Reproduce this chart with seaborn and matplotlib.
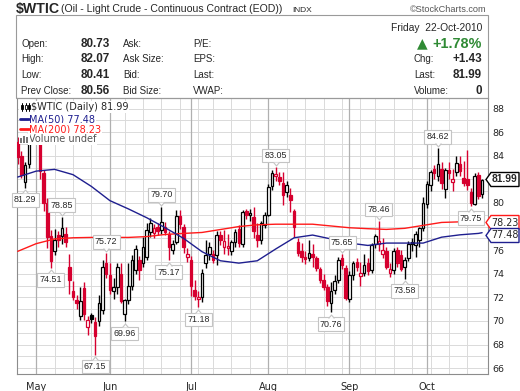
#### $WTIC daily candles, StockCharts style, Apr-Oct 2010

import matplotlib
matplotlib.use("Agg")
import matplotlib.pyplot as plt
from matplotlib.patches import Rectangle, Polygon
from matplotlib.lines import Line2D
from matplotlib.path import Path
from matplotlib.transforms import offset_copy
import numpy as np
import pandas as pd
import seaborn as sns

# one entry per trading day, 26-Apr-2010 .. 22-Oct-2010
opens = [85.2, 84.0, 81.8, 83.3, 85.8, 86.3, 86.0, 82.5, 80.0, 77.2,
         75.9, 77.3, 77.2, 77.4, 74.6, 72.5, 71.8, 70.4, 72.8, 69.5,
         70.5, 69.9, 70.0, 70.9, 74.9, 73.9, 72.5, 72.9, 74.0, 70.6,
         71.8, 73.0, 74.3, 75.2, 74.9, 75.4, 77.56, 77.42, 78.0, 77.7,
         78.0, 77.4, 76.0, 76.7, 78.9, 78.0, 75.4, 75.2, 72.6, 71.9,
         72.05, 74.9, 75.7, 75.7, 75.6, 77.3, 76.3, 76.15, 75.9, 76.7,
         77.8, 76.5, 79.3, 79.0, 78.8, 77.3, 76.9, 78.15, 79.0, 81.4,
         82.28, 82.2, 81.7, 80.95, 80.7, 79.3, 76.7, 75.9, 75.45, 75.3,
         75.7, 75.3, 74.4, 73.5, 72.9, 71.5, 72.6, 73.5, 75.3, 74.5,
         71.9, 73.9, 75.0, 73.8, 74.1, 74.9, 74.3, 76.5, 76.5, 75.7,
         75.9, 74.1, 74.3, 76.0, 75.6, 74.6, 75.3, 76.7, 76.4, 76.9,
         77.9, 79.9, 81.5, 82.9, 82.3, 82.9, 81.2, 82.8, 81.8, 82.6,
         83.3, 82.1, 82.0, 80.9, 79.9, 82.4, 80.73]
highs = [85.6, 84.4, 83.5, 86.3, 86.9, 87.2, 86.2, 82.8, 80.4, 77.7,
         77.8, 77.6, 78.85, 78.0, 75.7, 73.4, 72.2, 72.9, 73.3, 70.4,
         70.7, 70.3, 72.2, 75.2, 75.72, 74.9, 73.6, 74.9, 74.9, 71.9,
         74.9, 75.6, 76.4, 75.5, 77.1, 78.3, 78.7, 78.2, 78.3, 79.70,
         78.4, 77.6, 76.9, 79.4, 79.4, 78.2, 76.2, 75.5, 73.5, 72.5,
         74.4, 76.85, 76.7, 76.0, 77.6, 77.6, 77.7, 77.4, 76.9, 77.8,
         78.1, 79.4, 79.5, 79.5, 79.65, 78.3, 78.5, 79.2, 81.6, 82.8,
         83.05, 82.6, 82.6, 81.9, 81.25, 79.5, 77.0, 76.6, 75.9, 76.85,
         76.5, 75.5, 74.6, 74.0, 73.1, 73.3, 73.9, 75.4, 75.65, 74.7,
         74.2, 75.1, 75.3, 75.0, 75.7, 75.3, 76.6, 77.4, 78.46, 77.0,
         76.3, 74.9, 76.2, 76.3, 76.0, 75.4, 76.8, 77.0, 77.6, 78.0,
         80.5, 81.9, 82.8, 83.2, 84.62, 83.5, 83.0, 83.5, 82.9, 84.0,
         84.0, 83.6, 84.5, 81.3, 82.5, 82.6, 82.07]
lows = [83.3, 82.1, 81.29, 83.0, 85.2, 85.6, 82.0, 79.3, 76.2, 74.51,
        75.6, 76.3, 76.5, 76.3, 72.3, 71.8, 71.0, 70.1, 70.1, 68.8,
        69.8, 67.15, 69.6, 70.6, 73.6, 72.3, 71.9, 72.3, 71.5, 69.96,
        71.4, 72.6, 74.0, 73.5, 74.6, 75.2, 77.1, 77.0, 77.3, 77.4,
        77.3, 75.17, 75.7, 76.5, 77.8, 75.8, 75.0, 72.1, 71.8, 71.18,
        71.6, 74.45, 75.15, 74.9, 74.7, 76.4, 75.7, 75.6, 75.6, 76.3,
        76.3, 76.3, 78.6, 78.5, 77.0, 76.3, 76.5, 77.9, 78.9, 81.1,
        81.9, 81.5, 79.8, 80.5, 79.25, 77.1, 75.5, 75.0, 74.8, 75.1,
        74.6, 74.2, 73.2, 72.6, 71.3, 70.76, 72.3, 73.2, 74.4, 71.8,
        71.6, 73.5, 74.2, 73.0, 73.8, 73.9, 74.1, 76.2, 75.9, 75.3,
        74.4, 73.7, 74.0, 74.6, 74.2, 73.58, 75.1, 75.9, 75.4, 76.3,
        77.6, 79.6, 81.0, 82.0, 81.9, 81.2, 80.4, 82.0, 81.0, 82.3,
        82.3, 81.4, 81.1, 79.75, 79.8, 80.3, 80.41]
closes = [83.9, 82.4, 83.2, 85.9, 86.2, 86.19, 82.7, 80.0, 77.1, 75.1,
          76.9, 76.85, 77.85, 76.7, 73.5, 72.05, 71.5, 71.7, 70.6, 70.1,
          70.2, 68.75, 71.5, 74.55, 73.97, 72.6, 72.9, 74.6, 71.7, 71.8,
          73.0, 75.2, 76.1, 74.3, 76.3, 77.7, 78.27, 77.84, 77.6, 78.4,
          77.56, 76.3, 76.55, 78.9, 78.25, 76.3, 75.65, 72.95, 72.15, 72.0,
          74.1, 75.6, 76.3, 75.2, 77.3, 76.9, 76.8, 76.35, 76.7, 77.5,
          76.6, 79.2, 79.0, 79.05, 77.6, 76.9, 78.3, 78.95, 81.35, 82.55,
          82.45, 81.9, 80.7, 81.5, 80.25, 78.0, 75.75, 75.4, 75.25, 75.8,
          75.4, 74.45, 73.45, 72.9, 71.65, 72.5, 73.4, 75.2, 74.7, 71.95,
          73.9, 74.9, 74.6, 74.1, 74.7, 74.25, 76.45, 77.2, 76.8, 76.0,
          74.6, 74.4, 75.9, 74.9, 74.4, 75.2, 76.5, 76.55, 77.4, 77.86,
          80.0, 81.6, 82.6, 82.55, 83.3, 81.7, 82.8, 82.5, 82.0, 83.35,
          82.7, 81.7, 81.5, 80.0, 82.3, 80.56, 81.99]

# moving averages every 5 sessions
ma_days = [0, 5, 10, 15, 20, 25, 30, 35, 40, 45, 50, 55, 60, 65,
           70, 75, 80, 85, 90, 95, 100, 105, 110, 115, 120, 125, 126]
ma50 = [82.2, 82.7, 82.85, 82.4, 81.4, 80.2, 79.5, 78.75, 77.9, 77.0,
        75.87, 75.1, 74.9, 75.1, 76.1, 77.05, 77.28, 76.95, 76.6, 76.4,
        76.6, 76.6, 76.6, 77.1, 77.3, 77.42, 77.48]
ma200 = [75.9, 76.55, 76.95, 77.05, 77.08, 77.08, 77.08, 77.15, 77.33,
         77.42, 77.5, 77.75, 78.0, 78.15, 78.2, 78.2, 78.2, 78.05, 77.9,
         77.82, 77.76, 77.85, 78.1, 78.35, 78.4, 78.3, 78.23]

# labelled highs / lows: (session, value, above?)
marks = [(2, 81.29, False), (12, 78.85, True), (9, 74.51, False),
         (21, 67.15, False), (24, 75.72, True), (29, 69.96, False),
         (39, 79.70, True), (41, 75.17, False), (49, 71.18, False),
         (70, 83.05, True), (88, 75.65, True), (85, 70.76, False),
         (98, 78.46, True), (105, 73.58, False), (114, 84.62, True),
         (123, 79.75, False)]

RED = '#d6002f'
NAVY = '#1f1f8f'
W, H = 520, 391

sns.set_style('white')
plt.rcParams['font.family'] = ['DejaVu Sans']
HEAD = ['Liberation Sans', 'DejaVu Sans']

days = pd.bdate_range('2010-04-26', '2010-10-22')
days = days[~days.isin(pd.to_datetime(['2010-05-31', '2010-07-05', '2010-09-06']))]

fig = plt.figure(figsize=(W / 100, H / 100), dpi=100)
ax = fig.add_axes([17 / W, 1 - 374 / H, 471 / W, 276 / H])


def fx(x):
    return x / W


def fy(y):
    return 1 - y / H


def T(x, y, s, **kw):
    kw.setdefault('va', 'center')
    return fig.text(fx(x), fy(y), s, **kw)


# grid
for p in range(66, 89):
    ax.axhline(p, color='#dadada', lw=0.7, zorder=0)
month_first = [i for i in range(1, len(days)) if days[i].month != days[i - 1].month]
week_first = [i for i in range(1, len(days)) if days[i].weekday() < days[i - 1].weekday()]
for i in week_first:
    if i not in month_first:
        ax.axvline(i, color='#dadada', lw=0.7, zorder=0)
for i in month_first:
    ax.axvline(i, color='#b0b0b0', lw=0.9, zorder=0)

# candles
x = np.arange(len(closes))
o, hi, lo, c = (np.array(v) for v in (opens, highs, lows, closes))
prev = np.r_[o[0] + 1, c[:-1]]
col = np.where(c < prev, RED, 'black')
hollow = c >= o
ax.vlines(x, lo, hi, colors=col, lw=1.0, zorder=2)
body = np.maximum(np.abs(c - o), 0.12)
ax.bar(x, body, bottom=np.minimum(o, c), width=0.7,
       color=np.where(hollow, 'white', col), edgecolor=col, lw=0.9, zorder=3)

sns.lineplot(x=ma_days, y=ma200, color='#ff1a1a', lw=1.0, ax=ax, zorder=4)
sns.lineplot(x=ma_days, y=ma50, color=NAVY, lw=1.0, ax=ax, zorder=4)

# value labels with a small pointer toward the candle
up_tri = Path([(-1, 0), (0, 1.2), (1, 0)])
dn_tri = Path([(-1, 0), (0, -1.2), (1, 0)])
for i, v, up in marks:
    dy = 8.3 if up else -8.8
    ax.annotate(f'{v:.2f}', xy=(i, v), xytext=(0, dy),
                textcoords='offset points', ha='center', va='center',
                fontsize=6.4, family=HEAD, zorder=6,
                bbox=dict(boxstyle='square,pad=0.25', fc='white', ec='#c4c4c4', lw=0.8))
    edge = dy - 4.7 if up else dy + 4.7
    tr = offset_copy(ax.transData, fig=fig, x=0, y=edge, units='points')
    ax.plot([i], [v], marker=dn_tri if up else up_tri, ms=5, mfc='white', mec='none',
            transform=tr, zorder=7)
    ax.plot([i], [v], marker=dn_tri if up else up_tri, ms=5, fillstyle='none',
            mec='#c4c4c4', mew=0.8, transform=tr, zorder=7)

ax.set_xlim(-0.2, 127.6)
ax.set_ylim(65.5, 88.9)
ax.yaxis.tick_right()
ticks = list(range(66, 89, 2))
ax.set_yticks(ticks)
ax.set_yticklabels(['' if t in (78, 82) else str(t) for t in ticks])
ax.tick_params(axis='y', length=0, pad=3, labelsize=6.8)
ax.set_xticks(month_first)
ax.set_xticklabels([days[i].strftime('%b') for i in month_first])
ax.set_xticks(x, minor=True)
ax.tick_params(axis='x', which='major', length=2, pad=4, labelsize=7, color='#888888')
ax.tick_params(axis='x', which='minor', length=1.5, color='#aaaaaa')
ax.set_xlabel('')
ax.set_ylabel('')
for s in ax.spines.values():
    s.set_color('#8c8c8c')
    s.set_linewidth(0.8)

# header
T(16, 9, '$WTIC', weight='bold', size=10.2, family=HEAD)
T(61, 9.5, '(Oil - Light Crude - Continuous Contract (EOD))', size=7.6, family=HEAD)
T(292, 10, 'INDX', size=6, family=HEAD)
T(487, 10, '\u00a9StockCharts.com', ha='right', size=6.6, color='#555555', family=HEAD)
fig.add_artist(Rectangle((fx(16), fy(98)), 472 / W, 83 / H, fill=False,
                         ec='#9a9a9a', lw=0.8, transform=fig.transFigure))
T(482, 28, 'Friday  22-Oct-2010', ha='right', size=7.4, family=HEAD)
rows_y = [44, 59.5, 75, 91]
col1 = ['Open:', 'High:', 'Low:', 'Prev Close:']
vals1 = ['80.73', '82.07', '80.41', '80.56']
col2 = ['Ask:', 'Ask Size:', 'Bid:', 'Bid Size:']
col3 = ['P/E:', 'EPS:', 'Last:', 'VWAP:']
for y, a, b, cc, d in zip(rows_y, col1, vals1, col2, col3):
    T(21, y, a, size=7, family=HEAD)
    T(81, y, b, size=8.4, weight='bold', family=HEAD)
    T(123, y, cc, size=7, family=HEAD)
    T(193, y, d, size=7, family=HEAD)
T(417, 43.5, '\u25b2', size=10, color='#2f8a34')
T(482, 43.5, '+1.78%', ha='right', size=10.4, weight='bold', color='#2f8a34', family=HEAD)
for y, a, b in zip(rows_y[1:], ['Chg:', 'Last:', 'Volume:'], ['+1.43', '81.99', '0']):
    T(414, y, a, size=7, family=HEAD)
    T(482, y, b, ha='right', size=8.4, weight='bold', family=HEAD)

# legend inside the chart
lg = dict(size=7, bbox=dict(fc='white', ec='none', pad=0.4))
T(31, 107, '$WTIC (Daily) 81.99', **lg)
T(29, 119, 'MA(50) 77.48', color=NAVY, **lg)
T(29, 129, 'MA(200) 78.23', color='#ff1a1a', **lg)
T(29, 139, 'Volume undef', color='#555555', **lg)
fig.add_artist(Rectangle((fx(19), fy(112)), 12 / W, 10 / H, fc='white', ec='none',
                         transform=fig.transFigure, zorder=5))
for xx, fill in [(21, 'black'), (24.5, 'white'), (28, 'black')]:
    fig.add_artist(Line2D([fx(xx + 1), fx(xx + 1)], [fy(111), fy(103)], color='black',
                          lw=0.7, transform=fig.transFigure, zorder=6))
    fig.add_artist(Rectangle((fx(xx), fy(109)), 2 / W, 4 / H, fc=fill, ec='black', lw=0.6,
                             transform=fig.transFigure, zorder=7))
fig.add_artist(Line2D([fx(20), fx(29)], [fy(119), fy(119)], color=NAVY, lw=2,
                      transform=fig.transFigure, zorder=6))
fig.add_artist(Line2D([fx(20), fx(29)], [fy(129), fy(129)], color='#ff1a1a', lw=2,
                      transform=fig.transFigure, zorder=6))
fig.add_artist(Rectangle((fx(19), fy(144)), 11 / W, 10 / H, fc='white', ec='none',
                         transform=fig.transFigure, zorder=5))
for xx, hh in [(20, 5), (23, 7), (26, 6)]:
    fig.add_artist(Rectangle((fx(xx), fy(143)), 2 / W, hh / H, fc='#777777', ec='none',
                             transform=fig.transFigure, zorder=6))


# value tags on the right edge
def tag(yc, s, edge, bold):
    pts = [(486, yc), (491, yc - 7), (519, yc - 7), (519, yc + 7), (491, yc + 7)]
    fig.add_artist(Polygon([(fx(a), fy(b)) for a, b in pts], closed=True, fc='white',
                           ec=edge, lw=1.0, transform=fig.transFigure, zorder=8))
    T(505, yc, s, ha='center', size=7.4 if bold else 6.9,
      weight='bold' if bold else 'normal', zorder=9,
      family=HEAD if bold else 'DejaVu Sans')


tag(179.5, '81.99', 'black', True)
tag(222.5, '78.23', '#ff1a1a', False)
tag(235.5, '77.48', NAVY, False)

fig.savefig('out.png', dpi=100)
